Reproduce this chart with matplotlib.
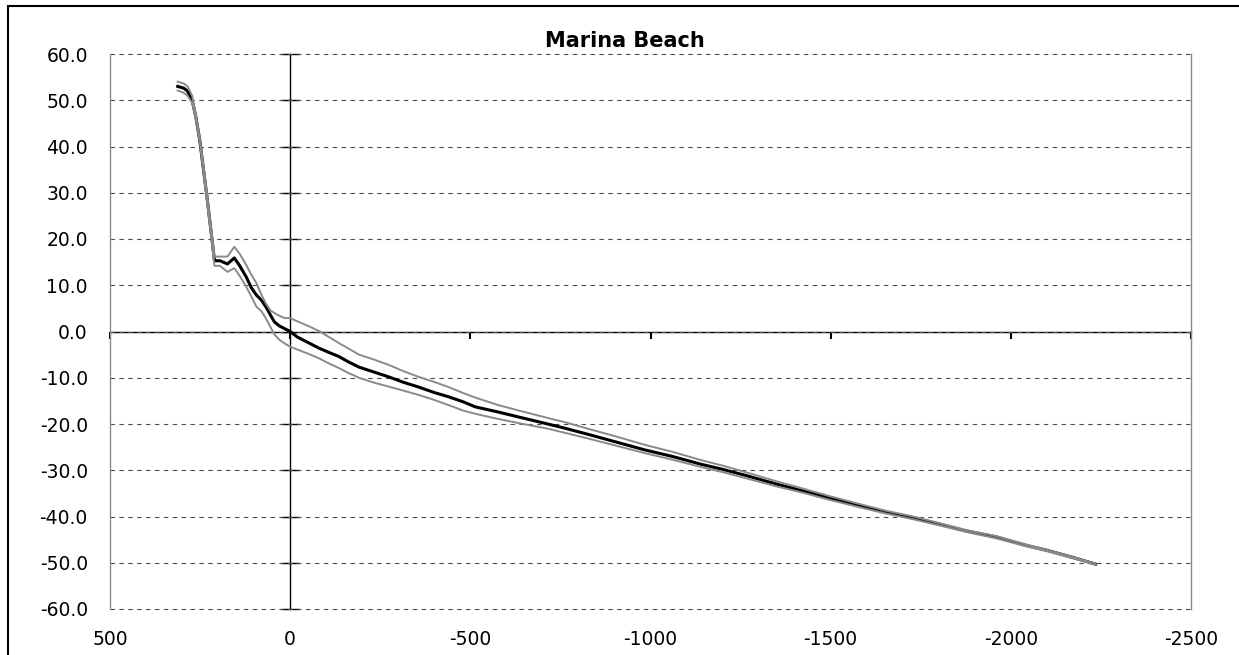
"""
Beach profile plot for Marina Beach: elevation against cross-shore
distance, showing the mean profile with the upper and lower envelopes.
"""

import matplotlib.pyplot as plt
from matplotlib.patches import Rectangle
from matplotlib.ticker import FormatStrFormatter


TITLE = 'Marina Beach'

# cross-shore distance (positive landward)
DISTANCE = [
    312, 295, 285, 272, 262, 251, 230, 210, 195, 174, 155, 140, 122, 108,
    94, 80, 67, 55, 44, 30, 15, 0, -20, -50, -80, -110, -135, -160, -191,
    -230, -273, -315, -356, -400, -439, -480, -514, -577, -640, -715, -762,
    -830, -900, -984, -1060, -1140, -1200, -1268, -1350, -1420, -1497,
    -1580, -1650, -1729, -1800, -1880, -1958, -2040, -2100, -2170, -2235]

MEAN_PROFILE = [
    53.0, 52.6, 52.0, 50.0, 46.5, 41.4, 28.5, 15.3, 15.3, 14.6, 15.9, 14.2,
    11.8, 9.5, 7.9, 6.8, 5.3, 3.6, 2.1, 1.2, 0.6, 0.0, -1.2, -2.4, -3.6,
    -4.6, -5.4, -6.5, -7.7, -8.7, -9.8, -11.0, -12.0, -13.2, -14.1, -15.2,
    -16.3, -17.4, -18.6, -20.0, -20.9, -22.3, -23.8, -25.6, -27.0, -28.7,
    -29.8, -31.2, -33.0, -34.4, -36.0, -37.7, -39.0, -40.3, -41.6, -43.2,
    -44.4, -46.2, -47.3, -48.8, -50.3]

UPPER_PROFILE = [
    54.0, 53.6, 53.0, 51.0, 47.0, 42.0, 29.5, 16.2, 16.2, 16.2, 18.3, 16.8,
    14.4, 12.3, 10.5, 8.0, 6.0, 4.6, 4.0, 3.4, 2.9, 2.9, 2.2, 1.2, 0.1,
    -1.3, -2.5, -3.6, -5.0, -6.0, -7.2, -8.6, -9.8, -10.9, -12.0, -13.3,
    -14.3, -15.9, -17.2, -18.7, -19.6, -21.1, -22.6, -24.5, -26.0, -27.8,
    -29.0, -30.5, -32.4, -33.9, -35.6, -37.3, -38.7, -40.0, -41.4, -43.0,
    -44.2, -46.0, -47.2, -48.7, -50.2]

LOWER_PROFILE = [
    52.1, 51.6, 51.0, 49.4, 46.0, 41.0, 27.5, 14.2, 14.2, 12.9, 13.7, 12.0,
    9.7, 7.6, 5.4, 4.4, 2.8, 1.0, -0.6, -1.8, -2.6, -3.3, -3.9, -4.8, -5.8,
    -7.0, -7.9, -8.9, -10.0, -11.0, -11.9, -12.8, -13.7, -14.8, -15.9,
    -17.1, -17.8, -18.9, -19.9, -21.0, -21.9, -23.2, -24.6, -26.3, -27.7,
    -29.3, -30.4, -31.8, -33.5, -34.8, -36.4, -38.0, -39.3, -40.6, -41.9,
    -43.4, -44.7, -46.4, -47.5, -49.0, -50.4]

X_TICKS = [500, 0, -500, -1000, -1500, -2000, -2500]
Y_TICKS = [-60, -50, -40, -30, -20, -10, 0, 10, 20, 30, 40, 50, 60]

WIDTH, HEIGHT, DPI = 1239, 655, 100
FONT = 'DejaVu Sans'
GREY = '#8a8a8a'


def main():

    plt.rcParams['font.family'] = FONT
    plt.rcParams['axes.unicode_minus'] = False

    fig = plt.figure(figsize=(WIDTH / DPI, HEIGHT / DPI), dpi=DPI)
    ax = fig.add_axes([
        110 / WIDTH, (HEIGHT - 609) / HEIGHT,
        (1191 - 110) / WIDTH, (609 - 54) / HEIGHT])

    # mean profile underneath, envelopes drawn over it
    ax.plot(DISTANCE, MEAN_PROFILE, color='black', lw=2.2)
    ax.plot(DISTANCE, UPPER_PROFILE, color=GREY, lw=1.4)
    ax.plot(DISTANCE, LOWER_PROFILE, color=GREY, lw=1.4)

    ax.set_xlim(X_TICKS[0], X_TICKS[-1])
    ax.set_ylim(Y_TICKS[0], Y_TICKS[-1])
    ax.set_xticks(X_TICKS)
    ax.set_yticks(Y_TICKS)
    ax.yaxis.set_major_formatter(FormatStrFormatter('%.1f'))

    ax.tick_params(axis='both', length=0, labelsize=13.5)
    ax.tick_params(axis='y', pad=16)
    ax.tick_params(axis='x', pad=15)

    ax.grid(axis='y', color='0.3', lw=0.8, ls=(0, (4, 4)))
    ax.grid(axis='x', visible=False)
    for tick in ax.yaxis.get_major_ticks():
        tick.gridline.set_clip_on(False)

    for side in ('top', 'bottom'):
        ax.spines[side].set_visible(False)
    for side in ('left', 'right'):
        ax.spines[side].set_color(GREY)
        ax.spines[side].set_linewidth(1.0)

    # axis lines through the origin
    origin = ax.transAxes.inverted().transform(ax.transData.transform((0, 0)))

    y_axis = ax.secondary_yaxis(origin[0])
    y_axis.set_yticks(Y_TICKS)
    y_axis.tick_params(direction='inout', length=13, width=1,
                       labelleft=False, labelright=False)
    for spine in y_axis.spines.values():
        spine.set_linewidth(1.0)

    x_axis = ax.secondary_xaxis(origin[1])
    x_axis.set_alignment('bottom')
    x_axis.set_xticks(X_TICKS)
    x_axis.tick_params(direction='out', length=5, width=1.5,
                       labelbottom=False, labeltop=False)
    for spine in x_axis.spines.values():
        spine.set_linewidth(1.0)

    ax.set_title(TITLE, x=0.476, pad=5, fontsize=15, fontweight='bold')

    # chart frame
    fig.patches.append(Rectangle(
        (8 / WIDTH, -0.1), 2, 1.1 - 6 / HEIGHT, transform=fig.transFigure,
        fill=False, ec='black', lw=1.5))

    fig.savefig('out.png', dpi=DPI)


if __name__ == '__main__':
    main()
